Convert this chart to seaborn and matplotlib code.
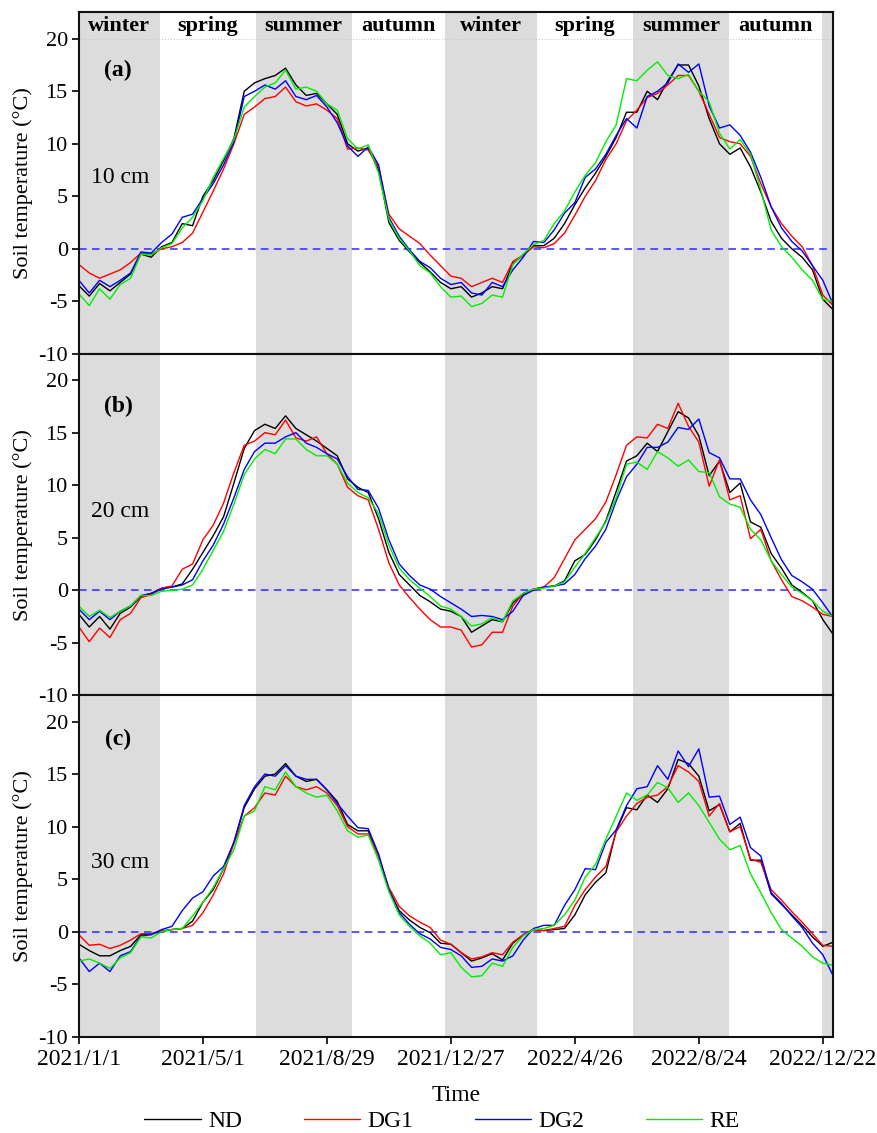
import pandas as pd
import numpy as np
import matplotlib
matplotlib.use('Agg')
import matplotlib.pyplot as plt
import seaborn as sns

# values read every 10 days from 2021/1/1
start = '2021-01-01'
n_pts = 74

# 10 cm
nd_10 = [-3.5, -4.5, -3.3, -4.0, -3.2, -2.4, -0.5, -0.8, 0.2, 0.6, 2.4, 2.2, 5.0, 6.5, 8.4, 10.5, 15.0, 15.8, 16.2, 16.5,
         17.2, 15.6, 14.6, 14.8, 13.8, 12.8, 10.0, 9.3, 9.6, 7.5, 2.5, 0.8, -0.3, -1.3, -2.2, -3.2, -3.8, -3.6, -4.6, -4.2,
         -3.6, -3.8, -1.4, -0.6, 0.3, 0.3, 1.0, 2.4, 4.2, 5.8, 7.2, 8.8, 10.6, 13.0, 13.0, 15.0, 14.2, 16.0, 17.5, 17.5,
         15.5, 12.4, 10.0, 9.0, 9.6, 7.8, 5.4, 2.6, 1.0, 0.0, -0.8, -2.0, -4.8, -5.8]
dg1_10 = [-1.5, -2.3, -2.8, -2.4, -2.0, -1.3, -0.4, -0.5, 0.0, 0.2, 0.6, 1.5, 3.5, 5.5, 7.6, 10.0, 12.8, 13.5, 14.3, 14.5,
          15.4, 14.0, 13.6, 13.8, 13.2, 12.4, 9.5, 9.6, 9.4, 7.8, 3.3, 1.9, 1.2, 0.5, -0.6, -1.6, -2.6, -2.8, -3.6, -3.2,
          -2.8, -3.2, -1.2, -0.6, 0.2, 0.1, 0.5, 1.5, 3.2, 5.0, 6.5, 8.5, 10.0, 12.2, 13.2, 14.4, 14.8, 15.6, 16.5, 16.5,
          15.0, 12.8, 10.6, 10.2, 10.0, 8.8, 6.2, 4.0, 2.4, 1.2, 0.2, -1.6, -4.4, -5.4]
dg2_10 = [-3.0, -4.2, -3.0, -3.6, -3.0, -2.3, -0.3, -0.4, 0.6, 1.4, 3.0, 3.3, 4.8, 6.2, 8.0, 10.2, 14.5, 15.0, 15.6, 15.2,
          16.0, 14.5, 14.2, 14.6, 13.5, 12.0, 9.8, 8.8, 9.7, 8.0, 3.0, 1.2, -0.1, -1.2, -1.8, -2.8, -3.4, -3.2, -4.2, -4.4,
          -3.2, -3.6, -2.0, -0.8, 0.7, 0.6, 1.8, 3.4, 4.4, 6.8, 7.6, 9.0, 10.8, 12.4, 11.5, 14.5, 15.0, 15.8, 17.6, 16.8,
          17.6, 13.6, 11.5, 11.8, 10.8, 9.2, 6.8, 4.0, 2.0, 0.7, -0.2, -1.6, -3.0, -5.3]
re_10 = [-4.3, -5.4, -3.8, -4.8, -3.4, -2.8, -0.5, -0.6, 0.1, 0.5, 2.0, 3.0, 4.6, 6.8, 8.6, 10.4, 13.5, 14.5, 15.4, 15.8,
         17.0, 15.2, 15.4, 15.0, 13.8, 13.2, 10.5, 9.5, 9.9, 7.2, 2.8, 1.0, -0.2, -1.6, -2.3, -3.6, -4.6, -4.5, -5.5, -5.2,
         -4.4, -4.6, -1.5, -0.5, 0.4, 0.8, 2.4, 3.6, 5.4, 7.0, 8.2, 10.2, 11.8, 16.2, 16.0, 17.0, 17.8, 16.5, 16.2, 16.6,
         15.0, 14.0, 11.0, 9.5, 10.4, 9.0, 5.6, 1.8, 0.2, -0.8, -2.0, -3.0, -4.8, -5.0]

# 20 cm
nd_20 = [-2.3, -3.5, -2.5, -3.7, -2.2, -1.6, -0.6, -0.3, 0.2, 0.3, 0.6, 2.0, 3.6, 5.2, 7.0, 10.2, 13.5, 15.2, 15.8, 15.4,
         16.6, 15.4, 14.8, 14.2, 13.5, 12.8, 10.6, 9.8, 9.3, 6.8, 3.6, 1.5, 0.5, -0.5, -1.1, -1.8, -2.0, -2.5, -4.0, -3.4,
         -2.8, -3.0, -1.2, -0.4, 0.1, 0.3, 0.4, 0.9, 2.8, 3.4, 4.8, 6.6, 9.4, 12.3, 12.8, 14.0, 13.2, 15.1, 17.0, 16.4,
         14.7, 10.9, 12.3, 9.3, 10.2, 6.5, 6.0, 3.5, 2.1, 0.5, -0.2, -1.0, -2.8, -4.2]
dg1_20 = [-3.5, -4.9, -3.6, -4.5, -2.8, -2.2, -0.7, -0.4, 0.2, 0.4, 2.0, 2.5, 4.8, 6.2, 8.3, 11.2, 13.8, 14.2, 15.0, 14.8,
          16.2, 14.5, 14.2, 14.6, 13.0, 12.0, 9.8, 9.0, 8.6, 5.8, 2.6, 0.5, -0.7, -1.8, -2.8, -3.5, -3.5, -3.8, -5.4, -5.2,
          -4.0, -4.0, -1.5, -0.3, 0.1, 0.3, 1.2, 3.0, 4.8, 5.8, 6.8, 8.4, 11.0, 13.8, 14.6, 14.5, 15.8, 15.4, 17.8, 15.6,
          14.1, 9.9, 12.4, 8.6, 9.0, 4.9, 5.8, 2.8, 1.0, -0.6, -1.0, -1.6, -2.3, -2.5]
dg2_20 = [-1.8, -2.8, -2.0, -2.8, -2.0, -1.5, -0.5, -0.3, 0.1, 0.3, 0.5, 1.0, 2.8, 4.3, 6.3, 8.8, 11.5, 13.2, 14.0, 14.0,
          14.6, 15.0, 14.0, 13.6, 13.0, 12.5, 10.8, 9.6, 9.5, 7.8, 4.8, 2.5, 1.4, 0.5, 0.1, -0.6, -1.2, -1.8, -2.5, -2.4,
          -2.5, -2.8, -2.0, -0.5, 0.0, 0.3, 0.4, 0.6, 1.5, 3.0, 4.2, 5.8, 8.5, 10.8, 12.0, 13.6, 13.6, 14.1, 15.5, 15.3,
          16.3, 13.1, 12.6, 10.6, 10.6, 8.6, 7.2, 5.0, 2.9, 1.4, 0.8, 0.1, -1.2, -2.6]
re_20 = [-1.5, -2.5, -1.9, -2.6, -2.0, -1.5, -0.5, -0.5, -0.1, 0.0, 0.1, 0.5, 2.0, 3.8, 5.6, 8.2, 11.0, 12.5, 13.4, 13.0,
         14.4, 14.4, 13.4, 12.8, 12.8, 12.0, 10.2, 9.3, 8.8, 7.3, 4.3, 2.1, 1.0, 0.2, -0.6, -1.5, -1.8, -2.5, -3.4, -3.2,
         -2.6, -3.0, -1.0, -0.3, 0.1, 0.2, 0.4, 0.8, 2.2, 3.5, 5.0, 6.5, 8.8, 12.0, 12.2, 11.5, 13.2, 12.6, 11.8, 12.4,
         11.3, 11.2, 8.9, 8.2, 7.9, 5.8, 4.8, 2.8, 1.5, 0.3, -0.3, -1.0, -2.0, -2.5]

# 30 cm
nd_30 = [-1.2, -1.8, -2.3, -2.3, -1.8, -1.4, -0.3, -0.2, 0.0, 0.2, 0.3, 1.0, 2.8, 4.0, 6.0, 8.5, 11.8, 13.6, 14.8, 15.0,
         16.0, 14.8, 14.3, 14.5, 13.5, 12.4, 10.2, 9.6, 9.6, 7.2, 4.0, 2.0, 1.1, 0.4, -0.1, -1.1, -1.2, -2.0, -2.8, -2.5,
         -2.1, -2.7, -1.1, -0.3, 0.2, 0.1, 0.2, 0.3, 1.6, 3.5, 4.7, 5.6, 9.6, 11.8, 11.6, 13.0, 12.3, 13.6, 16.4, 16.0,
         14.8, 11.5, 12.1, 9.5, 10.3, 6.8, 6.8, 3.6, 2.6, 1.6, 0.6, -0.5, -1.4, -1.0]
dg1_30 = [-0.3, -1.3, -1.2, -1.6, -1.3, -0.8, -0.2, -0.2, 0.1, 0.2, 0.3, 0.6, 1.8, 3.5, 5.5, 8.4, 11.0, 11.8, 13.2, 13.0,
          14.8, 13.8, 13.5, 13.8, 13.2, 12.0, 10.0, 9.3, 9.3, 7.2, 4.2, 2.4, 1.5, 0.9, 0.4, -0.8, -1.2, -2.0, -2.6, -2.4,
          -2.0, -2.2, -1.0, -0.3, 0.2, 0.1, 0.3, 0.5, 2.5, 4.0, 5.2, 6.2, 9.5, 11.0, 12.2, 12.8, 13.0, 13.8, 15.8, 15.2,
          14.3, 11.0, 12.2, 9.5, 10.0, 6.9, 6.6, 4.0, 3.0, 1.9, 0.9, -0.2, -1.3, -1.4]
dg2_30 = [-2.5, -3.8, -3.0, -3.8, -2.3, -1.9, -0.4, -0.3, 0.2, 0.5, 2.0, 3.2, 3.8, 5.3, 6.2, 8.5, 12.0, 13.8, 15.0, 14.8,
          15.8, 14.8, 14.5, 14.5, 13.5, 12.2, 11.0, 9.9, 9.8, 7.4, 4.0, 1.8, 0.7, -0.2, -0.7, -1.5, -1.7, -2.3, -3.4, -3.3,
          -2.6, -2.8, -2.3, -0.8, 0.3, 0.6, 0.6, 2.5, 4.0, 6.0, 5.9, 8.5, 9.7, 12.0, 13.6, 13.8, 15.8, 14.5, 17.2, 15.7,
          17.4, 12.8, 12.9, 10.2, 10.9, 8.0, 7.2, 3.7, 2.7, 1.5, 0.4, -1.1, -2.2, -4.2]
re_30 = [-2.8, -2.6, -3.0, -3.5, -2.5, -2.0, -0.5, -0.6, 0.0, 0.2, 0.3, 1.5, 2.8, 4.2, 6.0, 7.8, 11.0, 11.5, 13.8, 13.5,
         15.2, 13.8, 13.2, 12.8, 13.0, 11.5, 9.6, 9.0, 9.2, 6.8, 3.8, 1.6, 0.5, -0.4, -1.1, -2.2, -2.0, -3.4, -4.3, -4.2,
         -3.0, -3.3, -1.5, -0.4, 0.2, 0.3, 0.6, 1.6, 3.0, 5.2, 6.4, 8.8, 11.0, 13.2, 12.5, 13.0, 14.2, 13.7, 12.3, 13.2,
         12.0, 10.4, 8.8, 7.8, 8.2, 5.5, 3.7, 1.8, 0.2, -0.6, -1.4, -2.4, -3.0, -3.2]

treatments = ['ND', 'DG1', 'DG2', 'RE']
colors = ['black', '#ff0000', '#0000ff', '#00ee00']
depths = ['10 cm', '20 cm', '30 cm']
panel_tags = ['(a)', '(b)', '(c)']

season_edges = ['2021-01-01', '2021-03-20', '2021-06-21', '2021-09-22', '2021-12-21',
                '2022-03-20', '2022-06-21', '2022-09-22', '2022-12-21', '2023-01-01']
season_names = ['winter', 'spring', 'summer', 'autumn', 'winter', 'spring', 'summer', 'autumn', '']
season_gray = [True, False, True, False, True, False, True, False, True]

tick_labels = ['2021/1/1', '2021/5/1', '2021/8/29', '2021/12/27', '2022/4/26', '2022/8/24', '2022/12/22']

dates = pd.date_range(start, periods=n_pts, freq='10D')
series = {
    '10 cm': [nd_10, dg1_10, dg2_10, re_10],
    '20 cm': [nd_20, dg1_20, dg2_20, re_20],
    '30 cm': [nd_30, dg1_30, dg2_30, re_30],
}
rows = []
for depth in depths:
    for name, vals in zip(treatments, series[depth]):
        for d, v in zip(dates, vals):
            rows.append((depth, name, d, v))
df = pd.DataFrame(rows, columns=['depth', 'treatment', 'date', 'temp'])

sns.set_theme(style='ticks')
plt.rcParams['font.family'] = ['Liberation Serif', 'DejaVu Serif']
plt.rcParams['axes.unicode_minus'] = False
plt.rcParams['text.color'] = 'black'
plt.rcParams['axes.labelcolor'] = 'black'
plt.rcParams['xtick.color'] = 'black'
plt.rcParams['ytick.color'] = 'black'

fig, axes = plt.subplots(3, 1, figsize=(8.77, 11.33), dpi=100, sharex=True)
fig.subplots_adjust(left=0.090, right=0.950, top=0.989, bottom=0.085, hspace=0)

edges = pd.to_datetime(season_edges)
palette = dict(zip(treatments, colors))
label_y = [(17.0, 6.8), (17.5, 7.5), (18.3, 6.6)]

for i, ax in enumerate(axes):
    for k in range(len(season_names)):
        if season_gray[k]:
            ax.axvspan(edges[k], edges[k + 1], color='#dcdcdc', lw=0, zorder=0)
    ax.axhline(0, color='#2a2aff', lw=1.1, ls=(0, (5, 3.5)), zorder=1)
    sub = df[df['depth'] == depths[i]]
    sns.lineplot(data=sub, x='date', y='temp', hue='treatment', hue_order=treatments,
                 palette=palette, lw=1.0, ax=ax, legend=(i == 0), zorder=2)
    ax.set_ylim(-10, 22.5)
    ax.set_yticks([-10, -5, 0, 5, 10, 15, 20])
    ax.set_yticklabels(['-10', '-5', '0', '5', '10', '15', '20'])
    ax.set_ylabel('Soil temperature (°C)', fontsize=16, labelpad=4)
    ax.set_xlabel('')
    ax.tick_params(axis='y', direction='out', length=5, width=1.2, labelsize=16, pad=3)
    for s in ax.spines.values():
        s.set_linewidth(1.5)
        s.set_color('#111111')
    ax.text(edges[0] + pd.Timedelta(days=38), label_y[i][0], panel_tags[i],
            fontsize=17, fontweight='bold', ha='center', va='center')
    ax.text(edges[0] + pd.Timedelta(days=40), label_y[i][1], depths[i],
            fontsize=17, ha='center', va='center')
    if i < 2:
        ax.tick_params(axis='x', bottom=False)

# header with season names
ax0 = axes[0]
ax0.axhline(20, color='#c8c8c8', lw=0.8, ls=':', zorder=1)
for k in range(len(season_names)):
    if season_names[k]:
        mid = edges[k] + (edges[k + 1] - edges[k]) / 2
        ax0.text(mid, 21.25, season_names[k], fontsize=16, fontweight='bold', ha='center', va='center')

handles, labels = ax0.get_legend_handles_labels()
ax0.get_legend().remove()

ax = axes[2]
ax.set_xlim(pd.Timestamp('2021-01-01'), pd.Timestamp('2023-01-01'))
tick_pos = pd.to_datetime(tick_labels, format='%Y/%m/%d')
ax.set_xticks(tick_pos)
ax.set_xticklabels(tick_labels)
ax.tick_params(axis='x', direction='out', length=5, width=1.2, labelsize=17, pad=4)
ax.set_xlabel('Time', fontsize=17, labelpad=11)

fig.legend(handles, labels, loc='center', bbox_to_anchor=(0.504, 0.010), ncol=4, frameon=False,
           fontsize=17, handlelength=2.4, handletextpad=0.3, columnspacing=2.6)

fig.savefig('out.png', dpi=100)
